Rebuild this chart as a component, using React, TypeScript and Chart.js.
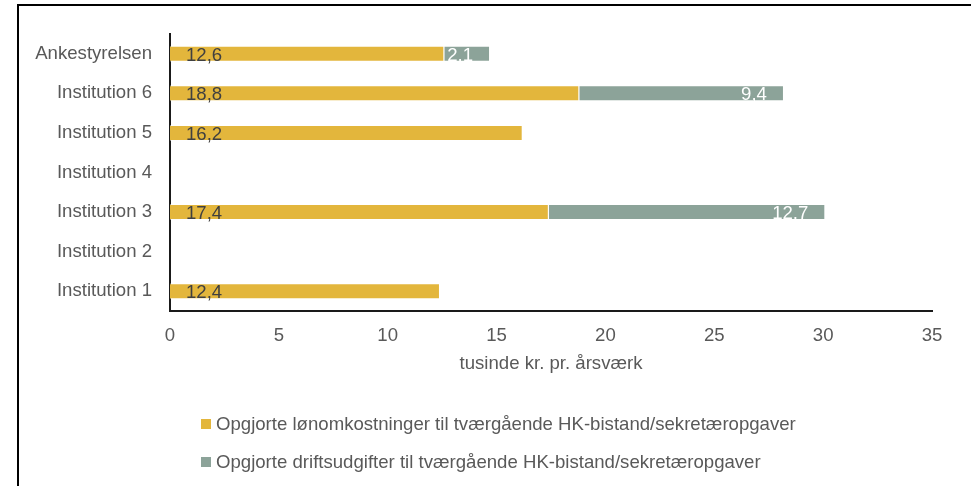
import React, { useEffect, useRef } from 'react';
import { Chart, registerables } from 'chart.js';

Chart.register(...registerables);

const categories = [
  'Ankestyrelsen',
  'Institution 6',
  'Institution 5',
  'Institution 4',
  'Institution 3',
  'Institution 2',
  'Institution 1',
];
const salaryCosts: (number | null)[] = [12.6, 18.8, 16.2, null, 17.4, null, 12.4];
const operatingCosts: (number | null)[] = [2.1, 9.4, null, null, 12.7, null, null];
const seriesNames = [
  'Opgjorte lønomkostninger til tværgående HK-bistand/sekretæropgaver',
  'Opgjorte driftsudgifter til tværgående HK-bistand/sekretæropgaver',
];
const seriesColors = ['#E3B63C', '#8CA399'];
const axisMin = 0;
const axisMax = 35;
const axisStep = 5;
const axisTitle = 'tusinde kr. pr. årsværk';

const FONT = '"Liberation Sans", Arial, sans-serif';
const FS = 18.6;
const TEXT_GREY = '#595959';

const fmt = (v: number) => String(v).replace('.', ',');

const framePlugin = {
  id: 'frame',
  beforeDraw(chart: any) {
    const ctx = chart.ctx;
    ctx.save();
    ctx.fillStyle = '#000';
    ctx.fillRect(17, 4, 2, chart.height);
    ctx.fillRect(17, 4, chart.width, 2);
    ctx.restore();
  },
};

const labelsPlugin = {
  id: 'barLabels',
  afterDatasetsDraw(chart: any) {
    const ctx = chart.ctx;
    ctx.save();
    ctx.font = `${FS}px ${FONT}`;
    chart.data.datasets.forEach((ds: any, di: number) => {
      const meta = chart.getDatasetMeta(di);
      meta.data.forEach((bar: any, i: number) => {
        const v = ds.data[i];
        if (v == null) return;
        const p = bar.getProps(['x', 'y', 'base'], true);
        const ty = p.y + 6.8;
        if (di === 0) {
          ctx.fillStyle = '#404040';
          ctx.textAlign = 'left';
          ctx.fillText(fmt(v), p.base + 16, ty);
        } else {
          ctx.fillStyle = '#FFFFFF';
          ctx.textAlign = 'right';
          ctx.fillText(fmt(v), p.x - 17, ty);
        }
      });
    });
    ctx.restore();
  },
};

const legendPlugin = {
  id: 'customLegend',
  afterDraw(chart: any) {
    const ctx = chart.ctx;
    ctx.save();
    ctx.font = `${FS}px ${FONT}`;
    ctx.textBaseline = 'middle';
    ctx.textAlign = 'left';
    const rows = [424, 462];
    chart.data.datasets.forEach((ds: any, di: number) => {
      const y = rows[di];
      ctx.fillStyle = ds.backgroundColor;
      ctx.fillRect(201, y - 5, 10, 10);
      ctx.fillStyle = TEXT_GREY;
      ctx.fillText(ds.label, 216, y + 1);
    });
    ctx.restore();
  },
};

export default function App() {
  const ref = useRef<HTMLCanvasElement>(null);

  useEffect(() => {
    if (!ref.current) return;
    const chart = new Chart(ref.current, {
      type: 'bar',
      data: {
        labels: categories,
        datasets: [
          {
            label: seriesNames[0],
            data: salaryCosts,
            backgroundColor: seriesColors[0],
            borderColor: 'rgba(255,255,255,0.45)',
            borderWidth: 1,
            barPercentage: 0.405,
            categoryPercentage: 1,
          },
          {
            label: seriesNames[1],
            data: operatingCosts,
            backgroundColor: seriesColors[1],
            borderColor: 'rgba(255,255,255,0.45)',
            borderWidth: 1,
            barPercentage: 0.405,
            categoryPercentage: 1,
          },
        ],
      },
      options: {
        indexAxis: 'y',
        responsive: false,
        animation: false,
        devicePixelRatio: 1,
        layout: { padding: { top: 34, right: 39, bottom: 109, left: 0 } },
        plugins: {
          legend: { display: false },
          tooltip: { enabled: false },
          title: { display: false },
        },
        scales: {
          x: {
            stacked: true,
            min: axisMin,
            max: axisMax,
            ticks: {
              stepSize: axisStep,
              color: TEXT_GREY,
              font: { family: FONT, size: FS },
              padding: 14,
              maxRotation: 0,
            },
            grid: { display: false, drawTicks: false },
            border: { display: true, color: '#1a1a1a', width: 2 },
            title: {
              display: true,
              text: axisTitle,
              color: TEXT_GREY,
              font: { family: FONT, size: FS },
              padding: { top: 4, bottom: 2 },
            },
            afterFit: (s: any) => {
              s.height = 66;
            },
          },
          y: {
            stacked: true,
            ticks: {
              color: TEXT_GREY,
              font: { family: FONT, size: FS },
              padding: 18,
            },
            grid: { display: false, drawTicks: false },
            border: { display: true, color: '#1a1a1a', width: 2 },
            afterFit: (s: any) => {
              s.width = 170;
            },
          },
        },
      },
      plugins: [framePlugin, labelsPlugin, legendPlugin],
    } as any);
    return () => chart.destroy();
  }, []);

  return (
    <div style={{ position: 'absolute', left: 0, top: 0, width: 971, height: 486, background: '#fff' }}>
      <canvas ref={ref} width={971} height={486} style={{ display: 'block', width: 971, height: 486 }} />
    </div>
  );
}
